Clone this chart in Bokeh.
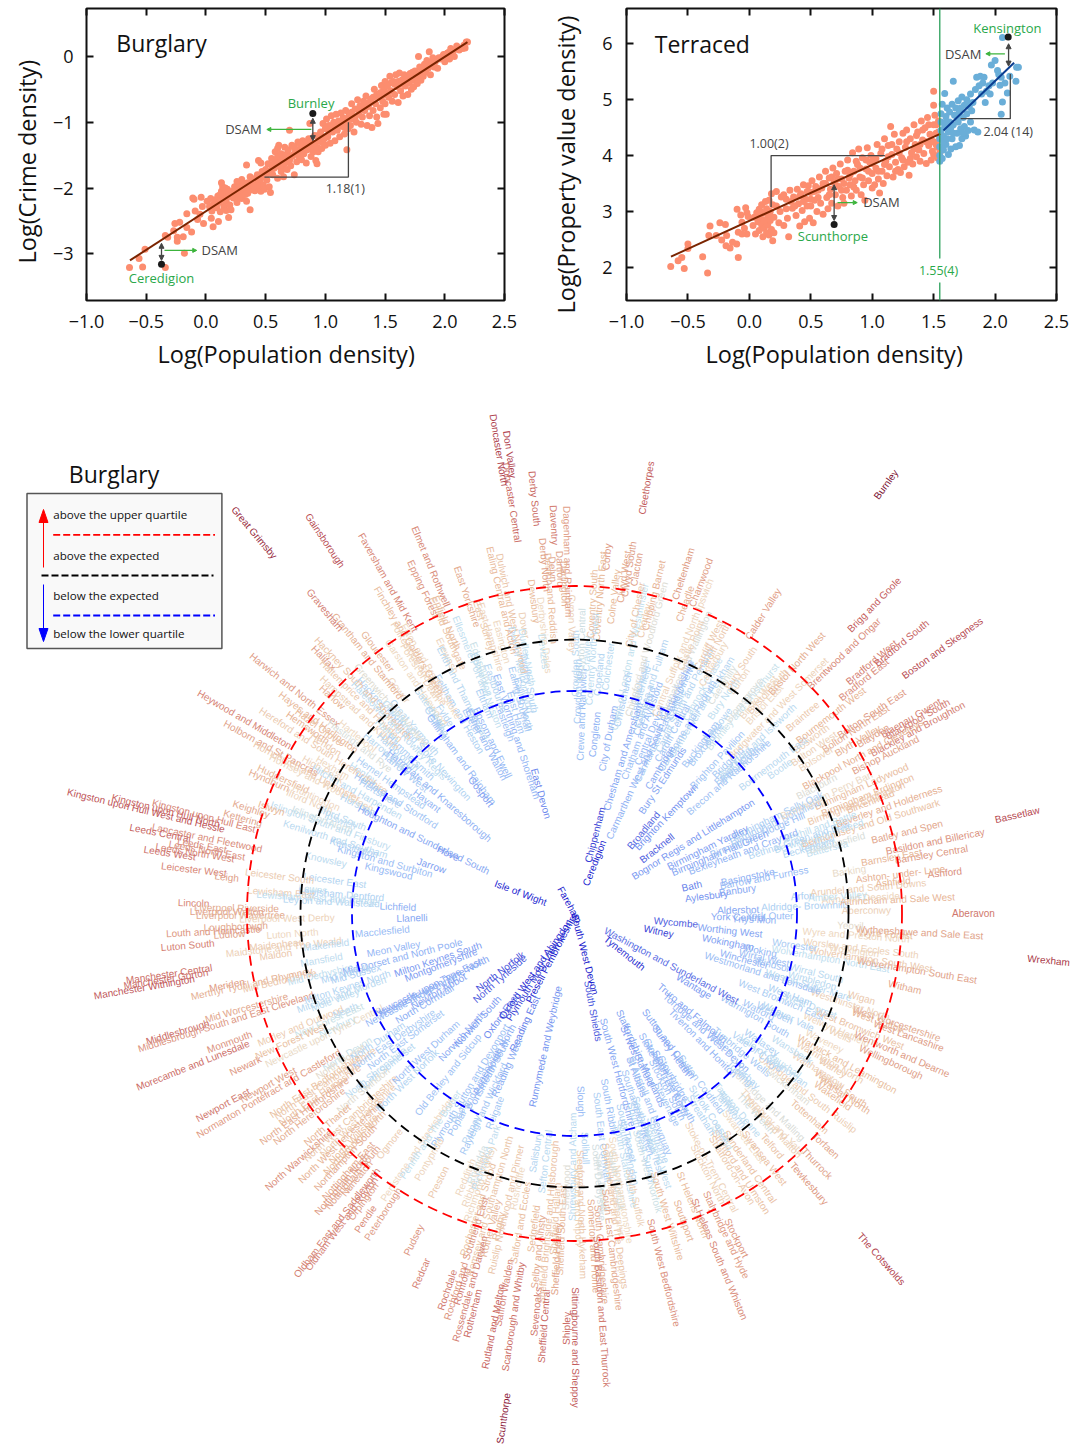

import math
from bokeh.plotting import figure
from bokeh.layouts import column, row
from bokeh.models import Arrow, NormalHead, LinearAxis, FixedTicker, Range1d, Title
from bokeh.core.properties import value
from bokeh.embed import file_html
from bokeh.resources import INLINE

# ---------- scatter data: burglary ----------
burglary_low = [(-0.64,-3.21),(-0.53,-3.20),(-0.56,-3.07),(-0.51,-2.93),(-0.34,-3.21),(-0.18,-2.99),(-0.34,-2.72),(-0.26,-2.54),(-0.22,-2.52),(-0.32,-2.75),(-0.27,-2.65),(-0.24,-2.75),(-0.24,-2.81),(-0.19,-2.74),(-0.16,-2.60),(-0.12,-2.67),(-0.16,-2.39),(-0.10,-2.17),(-0.09,-2.35),(-0.04,-2.14),(-0.02,-2.54),(0.06,-2.59),(0.105,-2.51),(0.045,-2.46),(0.19,-2.45),(-0.11,-2.15),(-0.05,-2.40),(-0.03,-2.28),(-0.07,-2.48)]
burglary_mid1 = [(0.01,-2.20),(0.03,-2.28),(0.04,-2.16),(0.05,-2.35),(0.06,-2.25),(0.08,-2.18),(0.09,-2.30),(0.10,-2.12),(0.11,-2.22),(0.12,-2.36),(0.13,-2.05),(0.13,-1.92),(0.14,-2.15),(0.14,-1.98),(0.15,-2.28),(0.16,-2.08),(0.17,-2.20),(0.17,-2.34),(0.18,-2.02),(0.19,-2.13),(0.20,-2.26),(0.21,-2.33),(0.22,-2.05),(0.23,-2.15),(0.24,-1.98),(0.25,-2.10),(0.26,-2.22),(0.27,-2.00),(0.28,-1.95),(0.29,-2.08),(0.30,-2.16),(0.30,-1.87),(0.32,-2.02),(0.33,-1.93),(0.34,-2.20),(0.35,-2.08),(0.36,-2.00),(0.37,-1.83),(0.38,-1.95),(0.37,-2.33),(0.40,-1.88),(0.41,-2.04),(0.42,-1.92),(0.43,-1.80),(0.44,-2.00),(0.45,-1.90),(0.46,-2.05),(0.47,-1.84),(0.48,-1.95),(0.49,-2.02),(0.50,-1.72),(0.51,-1.88),(0.52,-1.63),(0.53,-1.98),(0.54,-2.07),(0.34,-1.65),(0.44,-1.58),(0.46,-1.62),(0.12,-2.10),(0.16,-2.00),(0.21,-2.12),(0.26,-1.90),(0.31,-1.98),(0.35,-1.92),(0.39,-1.86),(0.43,-1.96),(0.47,-1.75),(0.50,-1.82)]
burglary_mid2 = [(0.55,-1.55),(0.56,-1.80),(0.57,-1.70),(0.58,-1.45),(0.59,-1.62),(0.60,-1.85),(0.60,-1.52),(0.61,-1.35),(0.62,-1.68),(0.63,-1.75),(0.63,-1.48),(0.64,-1.57),(0.65,-1.83),(0.66,-1.38),(0.66,-1.62),(0.67,-1.50),(0.68,-1.72),(0.69,-1.42),(0.70,-1.12),(0.70,-1.58),(0.71,-1.66),(0.72,-1.35),(0.73,-1.50),(0.74,-1.80),(0.75,-1.44),(0.76,-1.60),(0.77,-1.30),(0.78,-1.52),(0.79,-1.40),(0.80,-1.57),(0.81,-1.28),(0.82,-1.48),(0.83,-1.35),(0.84,-1.62),(0.85,-1.42),(0.86,-1.25),(0.87,-1.02),(0.88,-1.52),(0.89,-1.32),(0.90,-1.45),(0.91,-1.20),(0.92,-1.58),(0.93,-1.63),(0.93,-1.38),(0.95,-1.28),(0.96,-1.15),(0.97,-1.40),(0.98,-1.02),(0.99,-1.25),(1.00,-1.35),(1.00,-1.10),(0.56,-1.65),(0.60,-1.40),(0.68,-1.60),(0.74,-1.38),(0.79,-1.33),(0.85,-1.30),(0.94,-1.20)]
burglary_mid3 = [(1.01,-0.95),(1.02,-1.22),(1.03,-1.05),(1.04,-1.32),(1.05,-0.90),(1.06,-1.15),(1.07,-1.00),(1.08,-1.28),(1.09,-0.88),(1.10,-1.12),(1.11,-0.98),(1.12,-1.22),(1.13,-0.86),(1.14,-1.06),(1.15,-0.93),(1.16,-1.18),(1.17,-0.82),(1.18,-1.42),(1.18,-1.00),(1.19,-1.10),(1.20,-0.88),(1.21,-1.05),(1.22,-0.72),(1.23,-0.95),(1.24,-1.15),(1.25,-0.80),(1.26,-1.00),(1.27,-0.66),(1.28,-0.88),(1.29,-0.75),(1.30,-1.03),(1.31,-0.92),(1.32,-0.68),(1.33,-0.82),(1.34,-0.60),(1.35,-1.05),(1.36,-0.76),(1.37,-0.90),(1.38,-0.65),(1.39,-1.08),(1.40,-0.82),(1.41,-0.50),(1.42,-0.72),(1.43,-0.92),(1.44,-1.02),(1.45,-0.62),(1.46,-0.78),(1.47,-0.44),(1.47,-0.55),(1.48,-0.68),(1.49,-0.88),(1.50,-0.58),(1.50,-0.38),(1.50,-0.72)]
burglary_high = [(1.51,-0.88),(1.52,-0.45),(1.53,-0.62),(1.54,-0.30),(1.55,-0.52),(1.56,-0.68),(1.57,-0.38),(1.58,-0.58),(1.59,-0.28),(1.60,-0.46),(1.61,-0.70),(1.62,-0.25),(1.63,-0.52),(1.64,-0.36),(1.65,-0.60),(1.66,-0.28),(1.67,-0.45),(1.68,-0.33),(1.69,-0.58),(1.70,-0.40),(1.71,-0.26),(1.72,-0.50),(1.73,-0.36),(1.74,-0.46),(1.75,-0.22),(1.76,-0.32),(1.77,-0.41),(1.78,0.0),(1.79,-0.26),(1.80,-0.36),(1.81,-0.18),(1.82,-0.30),(1.83,-0.12),(1.84,-0.24),(1.85,-0.06),(1.86,-0.18),(1.87,0.07),(1.88,-0.28),(1.89,-0.12),(1.90,-0.02),(1.91,-0.16),(1.92,-0.08),(1.94,-0.18),(1.96,-0.04),(1.98,0.0),(2.00,-0.08),(2.02,0.05),(2.03,0.06),(2.04,-0.04),(2.05,0.12),(2.06,0.02),(2.07,0.08),(2.08,-0.0),(2.10,0.16),(2.12,0.10),(2.15,0.12),(2.17,0.13),(2.18,0.22),(2.16,0.17),(2.19,0.22)]
burglary_dense = [(0.08,-2.25),(0.15,-2.19),(0.19,-2.06),(0.24,-2.07),(0.28,-2.14),(0.33,-2.10),(0.37,-2.03),(0.40,-1.97),(0.44,-1.87),(0.52,-1.78),(0.55,-1.72),(0.58,-1.60),(0.62,-1.55),(0.65,-1.70),(0.68,-1.48),(0.72,-1.52),(0.76,-1.45),(0.80,-1.48),(0.84,-1.42),(0.88,-1.40),(0.91,-1.33),(0.94,-1.45),(0.97,-1.30),(1.00,-1.22),(1.03,-1.14),(1.06,-1.05),(1.10,-1.05),(1.13,-1.00),(1.16,-1.08),(1.19,-0.95),(1.22,-0.85),(1.25,-0.92),(1.28,-0.80),(1.31,-0.78),(1.34,-0.72),(1.37,-0.70),(1.40,-0.62),(1.43,-0.58),(1.46,-0.55),(1.49,-0.50),(1.52,-0.55),(1.55,-0.40),(1.58,-0.42),(1.61,-0.38),(1.64,-0.42),(1.67,-0.30),(1.70,-0.30),(1.73,-0.24),(1.76,-0.26),(1.79,-0.16),(1.82,-0.20),(1.85,-0.12),(1.88,-0.10),(1.91,-0.05),(1.95,-0.02),(1.99,0.03),(2.02,-0.03)]
burglary_fit_x = [-0.636, 2.19]
burglary_fit_y = [-3.10, 0.217]
burglary_marked = [(0.895,-0.866),(-0.372,-3.16)]

# ---------- scatter data: terraced ----------
terraced_low = [(-0.64,2.02),(-0.53,1.98),(-0.58,2.12),(-0.55,2.18),(-0.50,2.42),(-0.50,2.34),(-0.38,2.19),(-0.34,1.90),(-0.09,2.18),(-0.32,2.74),(-0.33,2.57),(-0.24,2.80),(-0.195,2.77),(-0.27,2.57),(-0.225,2.49),(-0.185,2.57),(-0.19,2.39),(-0.157,2.35),(-0.103,2.42),(-0.137,2.45),(-0.10,3.04),(-0.07,2.94),(-0.03,3.07),(-0.06,2.81),(-0.09,2.63),(-0.01,2.91),(-0.04,2.70),(-0.02,2.60),(-0.06,2.60),(-0.02,2.98)]
terraced_mid1 = [(0.03,2.75),(0.05,2.60),(0.06,2.98),(0.07,2.82),(0.08,3.04),(0.08,2.66),(0.09,2.90),(0.10,2.76),(0.10,3.12),(0.11,2.55),(0.12,2.98),(0.12,2.70),(0.13,3.18),(0.13,2.84),(0.14,2.62),(0.14,3.05),(0.15,2.92),(0.15,2.76),(0.16,2.58),(0.16,3.20),(0.17,3.00),(0.17,2.84),(0.18,3.32),(0.18,2.68),(0.19,2.48),(0.19,3.12),(0.20,2.90),(0.20,2.62),(0.22,3.36),(0.24,2.80),(0.26,3.26),(0.28,2.75),(0.30,3.22),(0.31,2.88),(0.33,3.38),(0.32,2.55),(0.35,3.06),(0.36,3.26),(0.38,2.93),(0.39,3.40),(0.40,3.14),(0.41,2.74),(0.42,3.32),(0.43,3.02),(0.44,3.48),(0.45,2.82),(0.46,3.22),(0.47,3.10),(0.48,3.46),(0.49,2.88),(0.50,3.34)]
terraced_mid2 = [(0.50,3.10),(0.51,3.55),(0.52,2.80),(0.53,3.20),(0.54,3.45),(0.55,3.00),(0.56,3.38),(0.57,3.62),(0.58,3.15),(0.60,3.50),(0.60,2.95),(0.62,3.72),(0.63,3.25),(0.64,3.05),(0.65,3.60),(0.66,3.40),(0.67,3.15),(0.68,3.78),(0.69,3.52),(0.70,3.30),(0.71,3.68),(0.72,3.10),(0.73,3.45),(0.74,3.85),(0.75,3.58),(0.76,3.25),(0.77,3.15),(0.78,3.72),(0.79,3.38),(0.80,3.92),(0.81,3.60),(0.82,3.48),(0.83,3.28),(0.84,4.05),(0.85,3.72),(0.86,3.55),(0.87,3.38),(0.88,3.84),(0.89,4.12),(0.90,3.62),(0.91,3.30),(0.92,3.96),(0.93,3.48),(0.94,3.20),(0.95,3.76),(0.96,4.14),(0.97,3.55),(0.98,3.88),(0.99,4.00),(1.00,3.42),(1.00,3.68)]
terraced_mid3 = [(1.01,3.92),(1.02,3.48),(1.03,3.78),(1.04,4.20),(1.05,3.58),(1.06,3.33),(1.07,4.04),(1.08,3.72),(1.09,3.50),(1.10,4.30),(1.11,3.90),(1.12,3.64),(1.13,4.18),(1.14,3.80),(1.15,4.52),(1.16,4.02),(1.17,3.62),(1.18,4.38),(1.19,3.88),(1.20,4.12),(1.21,3.75),(1.22,4.25),(1.23,3.70),(1.24,3.96),(1.25,4.40),(1.26,3.80),(1.27,4.15),(1.28,4.46),(1.29,3.88),(1.30,3.65),(1.31,4.30),(1.32,4.05),(1.33,3.85),(1.34,4.55),(1.35,4.20),(1.36,3.98),(1.37,4.42),(1.38,4.10),(1.39,3.90),(1.40,4.62),(1.41,4.28),(1.42,4.04),(1.43,4.50),(1.44,3.86),(1.45,4.68),(1.46,4.18),(1.47,4.38),(1.48,3.92),(1.49,4.08),(1.50,4.55),(1.50,4.25),(1.51,4.72),(1.52,4.40),(1.53,3.96),(1.53,4.15),(1.54,4.62),(1.50,4.90),(1.50,5.15),(1.55,4.30),(1.55,4.05)]
terraced_dense = [(0.04,2.90),(0.09,3.00),(0.12,2.84),(0.16,2.95),(0.22,3.10),(0.25,3.00),(0.28,3.30),(0.30,3.05),(0.34,3.18),(0.37,3.10),(0.41,3.28),(0.44,3.18),(0.47,3.36),(0.50,3.22),(0.53,3.36),(0.56,3.25),(0.59,3.42),(0.62,3.50),(0.65,3.30),(0.67,3.62),(0.70,3.48),(0.72,3.58),(0.75,3.38),(0.77,3.50),(0.80,3.74),(0.82,3.66),(0.85,3.44),(0.87,3.90),(0.90,3.78),(0.92,3.60),(0.95,3.92),(0.97,3.72),(1.00,3.86),(1.03,3.95),(1.05,3.72),(1.08,4.12),(1.10,3.84),(1.13,3.98),(1.16,4.20),(1.19,3.72),(1.22,4.05),(1.25,3.92),(1.28,4.25),(1.31,3.95),(1.34,4.12),(1.36,4.36),(1.39,4.20),(1.41,4.46),(1.44,4.25),(1.46,4.55),(1.48,4.28),(1.50,4.02),(1.52,4.20),(1.52,4.55),(1.54,4.42)]
terraced_blue = [(1.55,3.90),(1.55,4.00),(1.55,4.16),(1.55,4.30),(1.56,4.45),(1.56,4.60),(1.56,4.75),(1.57,4.92),(1.57,3.95),(1.58,4.10),(1.58,4.35),(1.59,4.52),(1.59,5.11),(1.60,4.20),(1.60,4.70),(1.61,4.85),(1.62,4.02),(1.62,4.42),(1.63,4.60),(1.63,4.78),(1.64,4.12),(1.65,4.30),(1.65,4.92),(1.66,4.55),(1.66,5.33),(1.67,4.72),(1.68,4.16),(1.68,4.85),(1.69,4.40),(1.70,4.98),(1.70,4.60),(1.71,4.18),(1.71,4.78),(1.72,4.48),(1.73,5.05),(1.73,4.30),(1.74,4.68),(1.75,4.90),(1.75,4.52),(1.76,4.35),(1.77,5.00),(1.77,4.75),(1.78,4.45),(1.79,4.88),(1.80,4.60),(1.80,5.10),(1.82,4.95),(1.83,4.46),(1.84,5.18),(1.85,5.40),(1.86,4.42),(1.87,5.25),(1.88,5.42),(1.89,5.10),(1.90,5.30),(1.91,5.40),(1.92,4.95),(1.93,5.15),(1.95,5.25),(1.96,5.10),(1.97,5.62),(1.98,5.30),(2.00,5.70),(2.02,5.52),(2.03,5.45),(2.05,5.40),(2.05,4.74),(2.06,4.96),(2.08,5.30),(2.10,5.12),(2.12,5.42),(2.17,5.33),(2.175,5.58),(2.19,5.58),(2.06,6.11),(2.04,5.26),(1.58,4.25),(1.60,4.60),(1.61,4.30),(1.64,4.50),(1.66,4.40),(1.69,4.70),(1.72,4.85),(1.74,4.40),(1.78,4.92),(1.81,4.80)]
terraced_fit_orange_x = [-0.638, 1.553]
terraced_fit_orange_y = [2.195, 4.39]
terraced_fit_blue_x = [1.58, 2.155]
terraced_fit_blue_y = [4.45, 5.66]
terraced_marked = [(2.107,6.12),(0.69,2.77)]
x_ticks = [-1.0,-0.5,0.0,0.5,1.0,1.5,2.0,2.5]
x_tick_labels = ["\u22121.0","\u22120.5","0.0","0.5","1.0","1.5","2.0","2.5"]
burglary_y_ticks = [-3,-2,-1,0]
burglary_y_labels = ["\u22123","\u22122","\u22121","0"]
terraced_y_ticks = [2,3,4,5,6]
terraced_y_labels = ["2","3","4","5","6"]

# ---------- radial data: constituency, radial reading of its DSAM ----------
seats_a = [("Aberavon",380),("Aberconwy",278),("Aldershot",156),("Aldridge- Brownhills",220),("Altrincham and Sale West",308),("Alyn and Deeside",273),("Amber Valley",251),("Arfon",218),("Arundel and South Downs",281),("Ashfield",305),("Ashford",355),("Ashton- under- Lyne",313),("Aylesbury",127)]
seats_b1 = [("Banbury",157),("Barking",265),("Barnsley Central",345),("Barnsley East",307),("Barrow and Furness",184),("Basildon and Billericay",351),("Basingstoke",169),("Bassetlaw",433),("Bath",115),("Batley and Spen",327),("Battersea",249),("Beaconsfield",260),("Beckenham",232),("Bedford",242),("Bermondsey and Old Southwark",296),("Berwick-upon-Tweed",245),("Bethnal Green and Bow",226),("Beverley and Holderness",318),("Bexhill and Battle",249),("Bexleyheath and Crayford",172),("Birkenhead",303)]
seats_b2 = [("Birmingham Edgbaston",290),("Birmingham Erdington",303),("Birmingham Hall Green",151),("Birmingham Hodge Hill",191),("Birmingham Ladywood",301),("Birmingham Northfield",212),("Birmingham Perry Barr",268),("Birmingham Selly Oak",217),("Birmingham Yardley",143),("Bishop Auckland",336),("Blackburn",263),("Blackley and Broughton",375),("Blackpool North and Cleveleys",317),("Blackpool South",380),("Blaenau Gwent",375),("Blaydon",335),("Blyth Valley",320),("Bognor Regis and Littlehampton",135),("Bolsover",277),("Bolton North East",325),("Bolton South East",346),("Bolton West",281),("Bootle",243),("Boston and Skegness",439),("Bosworth",285),("Bournemouth East",241),("Bournemouth West",314),("Bracknell",102)]
seats_b3 = [("Bradford East",361),("Bradford South",412),("Bradford West",378),("Braintree",293),("Brecon and Radnorshire",200),("Brent Central",221),("Brent North",212),("Brentford and Isleworth",245),("Brentwood and Ongar",365),("Bridgend",210),("Bridgwater and West Somerset",282),("Brigg and Goole",420),("Brighton Kemptown",130),("Brighton Pavilion",205),("Bristol East",276),("Bristol North West",327),("Bristol South",288),("Bristol West",278),("Broadland",106),("Bromley and Chislehurst",261),("Bromsgrove",267),("Broxbourne",210),("Broxtowe",232),("Buckingham",207),("Burnley",521),("Burton",280),("Bury North",257),("Bury South",292),("Bury St Edmunds",157)]
seats_c1 = [("Caerphilly",268),("Calder Valley",349),("Camberwell and Peckham",239),("Camborne and Redruth",216),("Cambridge",167),("Cannock Chase",255),("Canterbury",282),("Cardiff Central",203),("Cardiff North",297),("Cardiff South and Penarth",237),("Cardiff West",297),("Carlisle",230),("Carmarthen East and Dinefwr",210),("Carmarthen West and South Pembrokeshire",179),("Carshalton and Wallington",270),("Castle Point",290),("Central Devon",192),("Central Suffolk and North Ipswich",285),("Ceredigion",54),("Charnwood",352),("Chatham and Aylesford",194),("Cheadle",327),("Chelmsford",213),("Chelsea and Fulham",241),("Cheltenham",355),("Chesham and Amersham",164),("Chesterfield",230),("Chichester",240),("Chingford and Woodford Green",273),("Chippenham",81),("Chipping Barnet",327)]
seats_c2 = [("Chorley",300),("Christchurch",219),("Cities of London and Westminster",262),("City of Chester",304),("City of Durham",178),("Clacton",349),("Cleethorpes",431),("Clwyd South",348),("Clwyd West",340),("Colchester",249),("Colne Valley",319),("Congleton",180),("Copeland",240),("Corby",358),("Coventry North East",318),("Coventry North West",255),("Coventry South",310),("Crawley",260),("Crewe and Nantwich",199),("Croydon Central",269),("Croydon North",222),("Croydon South",250),("Cynon Valley",290)]
seats_d = [("Dagenham and Rainham",352),("Darlington",330),("Dartford",345),("Daventry",389),("Delyn",345),("Denton and Reddish",316),("Derby North",350),("Derby South",417),("Derbyshire Dales",280),("Devizes",264),("Dewsbury",315),("Don Valley",464),("Doncaster Central",416),("Doncaster North",470),("Dover",293),("Dudley North",261),("Dudley South",235),("Dulwich and West Norwood",307),("Dwyfor Meirionnydd",250)]
seats_e = [("Ealing Central and Acton",322),("Ealing North",216),("Ealing Southall",222),("Easington",282),("East Devon",125),("East Ham",210),("East Hampshire",290),("East Surrey",303),("East Worthing and Shoreham",187),("East Yorkshire",336),("Eastbourne",240),("Eastleigh",205),("Eddisbury",269),("Edmonton",258),("Ellesmere Port and Neston",262),("Elmet and Rothwell",378),("Eltham",230),("Enfield North",320),("Enfield Southgate",310),("Epping Forest",361),("Epsom and Ewell",191),("Erewash",290),("Erith and Thamesmead",249),("Esher and Walton",192),("Exeter",220)]
seats_fg = [("Fareham",10),("Faversham and Mid Kent",384),("Feltham and Heston",233),("Filton and Bradley Stoke",285),("Finchley and Golders Green",323),("Folkestone and Hythe",298),("Forest of Dean",290),("Fylde",240),("Gainsborough",455),("Garston and Halewood",284),("Gateshead",255),("Gedling",240),("Gillingham and Rainham",194),("Gloucester",333),("Gosport",156),("Gower",289),("Grantham and Stamford",336),("Gravesham",400),("Great Grimsby",507),("Great Yarmouth",250),("Greenwich and Woolwich",280),("Guildford",270)]
seats_h1 = [("Hackney North and Stoke Newington",242),("Hackney South and Shoreditch",315),("Halesowen and Rowley Regis",259),("Halifax",366),("Haltemprice and Howden",308),("Halton",268),("Hammersmith",232),("Hampstead and Kilburn",301),("Harborough",245),("Harlow",333),("Harrogate and Knaresborough",184),("Harrow East",255),("Harrow West",227),("Hartlepool",288),("Harwich and North Essex",368),("Hastings and Rye",280),("Havant",191),("Hayes and Harlington",329),("Hazel Grove",326),("Hemel Hempstead",232)]
seats_h2 = [("Hemsworth",335),("Hendon",310),("Henley",262),("Hereford and South Herefordshire",309),("Hertford and Stortford",218),("Hertsmere",236),("Hexham",292),("Heywood and Middleton",396),("High Peak",300),("Hitchin and Harpenden",258),("Holborn and St Pancras",358),("Hornchurch and Upminster",314),("Hornsey and Wood Green",295),("Horsham",250),("Houghton and Sunderland South",174),("Hove",145),("Huddersfield",333),("Huntingdon",294),("Hyndburn",346)]
seats_ijk = [("Ilford North",299),("Ilford South",261),("Ipswich",262),("Isle of Wight",60),("Islington North",280),("Islington South and Finsbury",270),("Islwyn",334),("Jarrow",157),("Keighley",354),("Kenilworth and Southam",261),("Kensington",240),("Kettering",360),("Kingston and Surbiton",205),("Kingston upon Hull East",400),("Kingston upon Hull North",440),("Kingston upon Hull West and Hessle",460),("Kingswood",199),("Knowsley",266)]
seats_l = [("Lancaster and Fleetwood",392),("Leeds Central",441),("Leeds East",396),("Leeds North East",390),("Leeds North West",402),("Leeds West",428),("Leicester East",253),("Leicester South",311),("Leicester West",401),("Leigh",366),("Lewes",275),("Lewisham Deptford",245),("Lewisham East",308),("Lewisham West and Penge",270),("Leyton and Wanstead",255),("Lichfield",185),("Lincoln",399),("Liverpool Riverside",354),("Liverpool Walton",364),("Liverpool Wavertree",339),("Liverpool West Derby",292),("Llanelli",165),("Loughborough",344),("Louth and Horncastle",367),("Ludlow",351),("Luton North",287),("Luton South",394)]
seats_m = [("Macclesfield",196),("Maidenhead",304),("Maidstone and The Weald",297),("Makerfield",254),("Maldon",306),("Manchester Central",416),("Manchester Gorton",420),("Manchester Withington",443),("Mansfield",261),("Meon Valley",187),("Meriden",360),("Merthyr Tydfil and Rhymney",335),("Mid Bedfordshire",307),("Mid Derbyshire",265),("Mid Dorset and North Poole",180),("Mid Norfolk",240),("Mid Sussex",230),("Mid Worcestershire",346),("Middlesbrough",420),("Middlesbrough South and East Cleveland",370),("Milton Keynes North",242),("Milton Keynes South",146),("Mitcham and Morden",250),("Mole Valley",258),("Monmouth",373),("Montgomeryshire",145),("Morecambe and Lunesdale",416),("Morley and Outwood",300)]
seats_n1 = [("Neath",252),("New Forest East",271),("New Forest West",315),("Newark",367),("Newbury",266),("Newcastle upon Tyne Central",282),("Newcastle upon Tyne East",166),("Newcastle upon Tyne North",160),("Newcastle-under-Lyme",187),("Newport East",405),("Newport West",355),("Newton Abbot",158),("Normanton Pontefract and Castleford",359),("North Cornwall",177),("North Devon",270),("North Dorset",280),("North Durham",237),("North East Bedfordshire",315),("North East Cambridgeshire",305),("North East Derbyshire",222),("North East Hampshire",316),("North East Hertfordshire",338),("North East Somerset",213),("North Herefordshire",337),("North Norfolk",95),("North Shropshire",257),("North Somerset",245),("North Swindon",278),("North Thanet",328),("North Tyneside",100)]
seats_n2 = [("North Warwickshire",373),("North West Cambridgeshire",306),("North West Durham",205),("North West Hampshire",302),("North West Leicestershire",329),("North West Norfolk",238),("North Wiltshire",318),("Northampton North",320),("Northampton South",337),("Norwich North",168),("Norwich South",146),("Nottingham East",345),("Nottingham North",359),("Nottingham South",347),("Nuneaton",345)]
seats_op = [("Ogmore",297),("Old Bexley and Sidcup",206),("Oldham East and Saddleworth",392),("Oldham West and Royton",390),("Orpington",359),("Oxford East",127),("Oxford West and Abingdon",68),("Pendle",372),("Penistone and Stocksbridge",284),("Penrith and The Border",265),("Peterborough",358),("Plymouth Moor View",80),("Plymouth Sutton and Devonport",202),("Pontypridd",287),("Poole",230),("Poplar and Limehouse",205),("Portsmouth North",167),("Portsmouth South",183),("Preseli Pembrokeshire",50),("Preston",302),("Pudsey",365),("Putney",240)]
seats_r = [("Rayleigh and Wickford",216),("Reading East",121),("Reading West",169),("Redcar",392),("Redditch",286),("Reigate",215),("Rhondda",270),("Ribble Valley",285),("Richmond Park",260),("Richmond (Yorks)",287),("Rochdale",398),("Rochester and Strood",312),("Rochford and Southend East",362),("Romford",390),("Romsey and Southampton North",305),("Rossendale and Darwen",390),("Rother Valley",326),("Rotherham",413),("Rugby",322),("Ruislip Northwood and Pinner",304),("Runnymede and Weybridge",136),("Rushcliffe",281),("Rutland and Melton",421)]
seats_s1 = [("Saffron Walden",386),("Salford and Eccles",314),("Salisbury",242),("Scarborough and Whitby",408),("Scunthorpe",510),("Sedgefield",318),("Sefton Central",250),("Selby and Ainsty",340),("Sevenoaks",400),("Sheffield Brightside and Hillsborough",310),("Sheffield Central",414),("Sheffield Hallam",306),("Sheffield Heeley",346),("Sheffield South East",317),("Sherwood",274),("Shipley",415),("Shrewsbury and Atcham",253),("Sittingbourne and Sheppey",434),("Skipton and Ripon",291),("Sleaford and North Hykeham",301),("Slough",188),("Solihull",235),("Somerton and Frome",333)]
seats_s2 = [("South Basildon and East Thurrock",399),("South Cambridgeshire",342),("South Derbyshire",270),("South Dorset",270),("South East Cambridgeshire",338),("South East Cornwall",225),("South Holland and The Deepings",305),("South Leicestershire",285),("South Norfolk",270),("South Northamptonshire",280),("South Ribble",196),("South Shields",99),("South Staffordshire",257),("South Suffolk",290),("South Swindon",244),("South Thanet",225),("South West Bedfordshire",369),("South West Devon",42),("South West Hertfordshire",164),("South West Norfolk",267),("South West Surrey",238),("South West Wiltshire",315),("Southampton Itchen",208),("Southampton Test",232),("Southend West",255),("Southport",324),("Spelthorne",240)]
seats_s3 = [("St Albans",174),("St Austell and Newquay",205),("St Helens North",312),("St Helens South and Whiston",372),("St Ives",137),("Stafford",170),("Staffordshire Moorlands",158),("Stalybridge and Hyde",352),("Stevenage",210),("Stockport",359),("Stockton North",290),("Stockton South",197),("Stoke-on-Trent Central",285),("Stoke-on-Trent North",182),("Stoke-on-Trent South",190),("Stone",170),("Stourbridge",190),("Stratford-on-Avon",297),("Streatham",235),("Stretford and Urmston",303),("Stroud",264),("Suffolk Coastal",238),("Sunderland Central",303),("Surrey Heath",165),("Sutton and Cheam",158),("Sutton Coldfield",209),("Swansea East",275),("Swansea West",304)]
seats_t = [("Tamworth",246),("Tatton",240),("Taunton Deane",250),("Telford",299),("Tewkesbury",350),("The Cotswolds",452),("The Wrekin",264),("Thirsk and Malton",285),("Thornbury and Yate",281),("Thurrock",340),("Tiverton and Honiton",178),("Tonbridge and Malling",266),("Tooting",224),("Torbay",232),("Torfaen",333),("Torridge and West Devon",173),("Totnes",190),("Tottenham",302),("Truro and Falmouth",150),("Tunbridge Wells",211),("Twickenham",266),("Tynemouth",62),("Uxbridge and South Ruislip",286),("Vale of Clwyd",222),("Vale of Glamorgan",240),("Vauxhall",251)]
seats_w1 = [("Wakefield",306),("Wallasey",220),("Walsall North",315),("Walsall South",308),("Walthamstow",280),("Wansbeck",248),("Wantage",135),("Warley",290),("Warrington North",285),("Warrington South",200),("Warwick and Leamington",300),("Washington and Sunderland West",106),("Watford",200),("Waveney",270),("Wealden",215),("Weaver Vale",228),("Wellingborough",336),("Wells",281),("Welwyn Hatfield",275),("Wentworth and Dearne",342),("West Bromwich East",215),("West Bromwich West",295),("West Dorset",243),("West Ham",221),("West Lancashire",341),("West Suffolk",309),("West Worcestershire",326)]
seats_w2 = [("Westminster North",278),("Westmorland and Lonsdale",189),("Weston-Super-Mare",234),("Wigan",286),("Wimbledon",236),("Winchester",168),("Windsor",195),("Wirral South",238),("Wirral West",186),("Witham",323),("Witney",82),("Woking",181),("Wokingham",149),("Wolverhampton North East",248),("Wolverhampton South East",331),("Wolverhampton South West",286),("Worcester",212),("Workington",269),("Worsley and Eccles South",275),("Worthing West",149),("Wrexham",454),("Wycombe",97),("Wyre and Preston North",269),("Wyre Forest",297),("Wythenshawe and Sale East",329),("Yeovil",263),("Ynys Mon",171),("York Central",156),("York Outer",186)]
ring_upper, ring_expected, ring_lower = 327.5, 274, 222.5

seats = (seats_a+seats_b1+seats_b2+seats_b3+seats_c1+seats_c2+seats_d+seats_e+seats_fg+seats_h1+seats_h2
         +seats_ijk+seats_l+seats_m+seats_n1+seats_n2+seats_op+seats_r+seats_s1+seats_s2+seats_s3+seats_t+seats_w1+seats_w2)

FONT = value("Open Sans")
GREEN = "#2aa84a"
GREY = "#444444"
ORANGE = "#fc8d6f"
BLUE = "#6aaed8"

def pairs(*groups):
    pts = [pt for g in groups for pt in g]
    return [a for a, _ in pts], [b for _, b in pts]

def label(p, x, y, s, size="13px", color=GREY, align="center", font=FONT):
    p.text(x=[x], y=[y], text=[s], text_font=font, text_font_size=size, text_color=color,
           text_align=align, text_baseline="middle")

def title(p, side, s, offset, standoff):
    p.add_layout(Title(text=s, align="left", offset=offset, standoff=standoff, text_font="Open Sans",
                       text_font_size="23.5px", text_font_style="normal", text_color="#111111"), side)

def arrow(p, x0, y0, x1, y1, color, both=False, size=6, width=1.3):
    head = lambda: NormalHead(size=size, fill_color=color, line_color=color)
    p.add_layout(Arrow(x_start=x0, y_start=y0, x_end=x1, y_end=y1, line_color=color, line_width=width,
                       end=head(), start=head() if both else None))

def scatter_panel(width, left, right, xr, yr, yticks, ylabels, y_standoff):
    p = figure(width=width, height=388, x_range=Range1d(*xr), y_range=Range1d(*yr), output_backend="svg",
               toolbar_location=None, min_border_left=left, min_border_right=right, min_border_top=8,
               min_border_bottom=88, background_fill_color="white", border_fill_color="white")
    p.grid.visible = False
    p.outline_line_color = "#111111"
    p.outline_line_width = 2
    for ax, ticks, labs in ((p.xaxis[0], x_ticks, x_tick_labels), (p.yaxis[0], yticks, ylabels)):
        ax.ticker = FixedTicker(ticks=ticks)
        ax.major_label_overrides = dict(zip(ticks, labs))
        ax.major_label_text_font = "Open Sans"
        ax.major_label_text_font_size = "18px"
        ax.major_label_text_color = "#111111"
        ax.major_tick_in = 7
        ax.major_tick_out = 0
        ax.minor_tick_line_color = None
        ax.major_tick_line_width = 2
        ax.major_tick_line_color = "#111111"
        ax.axis_line_color = None
    p.xaxis[0].major_label_standoff = 14
    p.yaxis[0].major_label_standoff = y_standoff
    p.yaxis[0].major_label_orientation = "horizontal"
    for side, ticks in (("above", x_ticks), ("right", yticks)):
        extra = LinearAxis(ticker=FixedTicker(ticks=ticks), major_label_overrides={t: "" for t in ticks},
                           major_label_text_font_size="0px", major_label_standoff=0, axis_line_color=None,
                           major_tick_in=7, major_tick_out=0, minor_tick_line_color=None,
                           major_tick_line_width=2, major_tick_line_color="#111111")
        p.add_layout(extra, side)
    return p

# ---------- burglary panel ----------
p1 = scatter_panel(528, 86, 24, (-1.0, 2.5), (-3.71, 0.729), burglary_y_ticks, burglary_y_labels, 13)
bx, by = pairs(burglary_low, burglary_mid1, burglary_dense, burglary_mid2, burglary_mid3, burglary_high)
p1.scatter(bx, by, size=7, color=ORANGE, line_color=None)
p1.line(burglary_fit_x, burglary_fit_y, line_color="#7a2400", line_width=2)
p1.line([0.49, 1.193, 1.193], [-1.834, -1.834, -1.0], line_color=GREY, line_width=1.3)
mx, my = pairs(burglary_marked)
p1.scatter(mx, my, size=7, color="#1a1a1a", line_color=None)
label(p1, -0.75, 0.2, "Burglary", size="23px", color="#111111", align="left")
label(p1, 0.88, -0.71, "Burnley", color=GREEN)
label(p1, -0.372, -3.37, "Ceredigion", color=GREEN)
label(p1, 0.314, -1.10, "DSAM")
label(p1, 0.116, -2.94, "DSAM")
label(p1, 1.167, -2.0, "1.18(1)", size="12.5px")
arrow(p1, 0.895, -0.94, 0.895, -1.28, GREY, both=True, size=5)
arrow(p1, -0.372, -2.84, -0.372, -3.10, GREY, both=True, size=5)
arrow(p1, 0.883, -1.11, 0.51, -1.11, "#3cb43c", size=4)
arrow(p1, -0.347, -2.948, -0.077, -2.948, "#3cb43c", size=4)
title(p1, "below", "Log(Population density)", 71, 11)
title(p1, "left", "Log(Crime density)", 37, 14)

# ---------- terraced panel ----------
p2 = scatter_panel(554, 98, 26, (-1.0, 2.5), (1.41, 6.63), terraced_y_ticks, terraced_y_labels, 14)
ox, oy = pairs(terraced_low, terraced_mid1, terraced_dense, terraced_mid2, terraced_mid3)
p2.scatter(ox, oy, size=7, color=ORANGE, line_color=None)
tx, ty = pairs(terraced_blue)
p2.scatter(tx, ty, size=7, color=BLUE, line_color=None)
p2.line(terraced_fit_orange_x, terraced_fit_orange_y, line_color="#7a2400", line_width=2)
p2.line(terraced_fit_blue_x, terraced_fit_blue_y, line_color="#0a3d91", line_width=2)
p2.line([1.55, 1.55], [6.63, 2.16], line_color="#2aa05a", line_width=1.3)
p2.line([1.55, 1.55], [1.73, 1.41], line_color="#2aa05a", line_width=1.3)
p2.line([0.177, 0.177, 1.103], [3.08, 4.0, 4.0], line_color=GREY, line_width=1.3)
p2.line([1.72, 2.124, 2.124], [4.66, 4.66, 5.46], line_color=GREY, line_width=1.3)
mx, my = pairs(terraced_marked)
p2.scatter(mx, my, size=7, color="#1a1a1a", line_color=None)
label(p2, -0.77, 6.0, "Terraced", size="23px", color="#111111", align="left")
label(p2, 2.10, 6.29, "Kensington", color=GREEN)
label(p2, 0.68, 2.56, "Scunthorpe", color=GREEN)
label(p2, 1.74, 5.82, "DSAM")
label(p2, 1.075, 3.17, "DSAM")
label(p2, 0.16, 4.21, "1.00(2)", size="12.5px")
label(p2, 2.107, 4.44, "2.04 (14)", size="12.5px")
label(p2, 1.54, 1.94, "1.55(4)", size="12.5px", color=GREEN)
arrow(p2, 2.11, 6.0, 2.11, 5.6, GREY, both=True, size=5)
arrow(p2, 0.69, 3.48, 0.69, 2.84, GREY, both=True, size=5)
arrow(p2, 2.08, 5.82, 1.925, 5.82, "#3cb43c", size=4)
arrow(p2, 0.718, 3.16, 0.878, 3.16, "#3cb43c", size=4)
title(p2, "below", "Log(Population density)", 79, 11)
title(p2, "left", "Log(Property value density)", -13, 36)

# ---------- radial panel ----------
CX, CY = 574, 913
p3 = figure(width=1082, height=1058, x_range=Range1d(-CX, 1082-CX), y_range=Range1d(CY-1446, CY-388),
            x_axis_type=None, y_axis_type=None, output_backend="svg", toolbar_location=None,
            min_border=0, outline_line_color=None, background_fill_color="white", border_fill_color="white")
p3.grid.visible = False

stops = [(40,(25,25,205)),(90,(60,70,215)),(130,(115,145,240)),(190,(150,185,245)),(235,(175,210,242)),(265,(195,224,238)),
         (280,(238,217,194)),(320,(232,184,152)),(380,(216,136,120)),(430,(196,92,92)),(480,(168,56,72)),(530,(122,16,48))]
def shade(r):
    for (a, ca), (b, cb) in zip(stops, stops[1:]):
        if r <= b:
            t = max(0.0, (r-a)/(b-a))
            return "#%02x%02x%02x" % tuple(round(u+(v-u)*t) for u, v in zip(ca, cb))
    return "#%02x%02x%02x" % stops[-1][1]

N = len(seats)
xs, ys, angs, cols, texts = [], [], [], [], []
for i, (name, reading) in enumerate(seats):
    th = 2*math.pi*i/N
    c, s = math.cos(th), math.sin(th)
    # the readings came from a horizontally compressed view of the reference
    f = 1.05 if c > 0 else (0.955 if s > 0 else 0.985)
    r = reading*math.hypot(f*c, s)
    xs.append(r*c); ys.append(r*s)
    angs.append(th if c >= 0 else th-math.pi)
    cols.append(shade(r)); texts.append(name)
p3.text(x=xs, y=ys, text=texts, angle=angs, text_color=cols, text_align="center", text_baseline="middle",
        text_font=value("Liberation Sans"), text_font_size="10px")
for r, col in ((ring_upper, "#ff0000"), (ring_expected, "#000000"), (ring_lower, "#0000ff")):
    p3.circle(x=[0], y=[0], radius=[r], fill_color=None, line_color=col, line_width=1.8, line_dash="10 6")

# legend, placed in page pixels
def px(x): return x-CX
def py(y): return CY-y
p3.quad(left=[px(26.5)], right=[px(221.4)], top=[py(493)], bottom=[py(648)], fill_color="#f9f9f9",
        line_color="#555555", line_width=1.5)
for x0, x1, y, col in ((52.7, 214.5, 534.3, "#ff0000"), (41, 213, 575, "#000000"), (52.7, 214.5, 615, "#0000ff")):
    p3.line([px(x0), px(x1)], [py(y), py(y)], line_color=col, line_width=1.8, line_dash="7 3")
p3.line([px(43), px(43)], [py(567), py(520)], line_color="#ff0000", line_width=1)
p3.patch([px(38.5), px(47.5), px(43)], [py(522), py(522), py(509)], color="#ff0000")
p3.line([px(43), px(43)], [py(584), py(630)], line_color="#0000ff", line_width=1)
p3.patch([px(38.5), px(47.5), px(43)], [py(628), py(628), py(641)], color="#0000ff")
for s, y in (("above the upper quartile", 514), ("above the expected", 554.5),
             ("below the expected", 594.5), ("below the lower quartile", 633)):
    label(p3, px(52.7), py(y), s, size="11.6px", color="#111111", align="left")
label(p3, px(113.5), py(473), "Burglary", size="23px", color="#111111")

page = column(row(p1, p2), p3)
open("out.html", "w").write(file_html(page, INLINE))
